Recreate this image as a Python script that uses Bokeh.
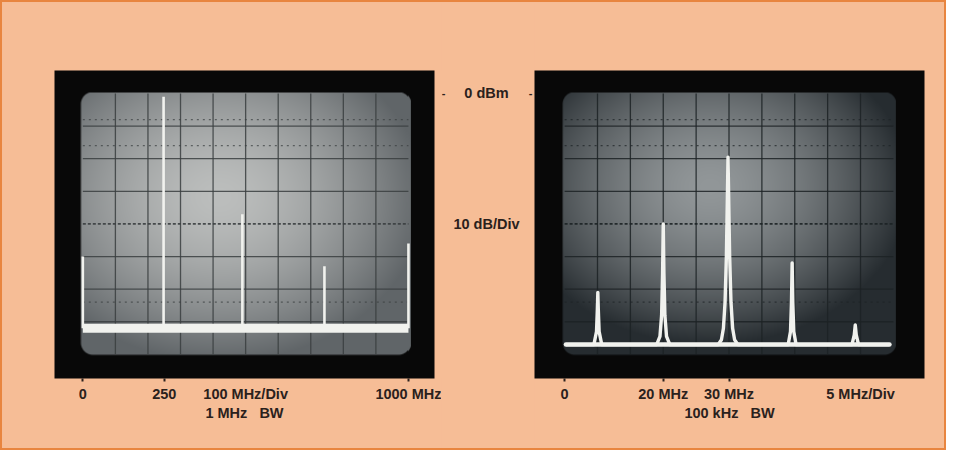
import numpy as np
from bokeh.plotting import figure
from bokeh.layouts import row
from bokeh.models import FixedTicker, Range1d
from bokeh.core.properties import value
from bokeh.embed import file_html
from bokeh.resources import INLINE

# ---------------- data ----------------
# Left display: 0-1000 MHz, 100 MHz/div, 10 dB/div, 1 MHz BW
left_peak_freq_mhz = [0, 248, 490, 742, 1000]
left_peak_level_db = [-50, -1, -37, -53, -46]
left_floor_db = -72
left_floor_span_mhz = [0, 1000]
left_tick_values = [0, 250, 500, 1000]
left_tick_labels = ["0", "250", "100 MHz/Div", "1000 MHz"]
left_tick_marks = [0, 250, 1000]

# Right display: 5 MHz/div, 10 dB/div, 100 kHz BW
right_trace_freq_mhz = [5.2, 9.45, 9.85, 9.98, 10.05, 10.12, 10.25, 10.65,
                        19.0, 19.5, 19.75, 19.9, 20.0, 20.1, 20.25, 20.5, 21.0,
                        28.35, 28.85, 29.15, 29.4, 29.6, 29.75, 29.85, 29.95, 30.1, 30.3, 30.55, 30.85, 31.35,
                        39.0, 39.35, 39.5, 39.6, 39.7, 39.85, 40.2,
                        48.7, 49.05, 49.2, 49.35, 49.7, 54.4]
right_trace_level_db = [-77, -77, -73, -66, -61, -66, -73, -77,
                        -77, -74.5, -68, -55, -40, -55, -68, -74.5, -77,
                        -77, -75.5, -72, -64, -50, -32, -19.5, -32, -50, -64, -72, -75.5, -77,
                        -77, -73, -64, -52, -64, -73, -77,
                        -77, -74, -71, -74, -77, -77]
right_floor_db = -77
right_floor_span_mhz = [5.2, 54.4]
right_tick_values = [5, 20, 30, 50]
right_tick_labels = ["0", "20 MHz", "30 MHz", "5 MHz/Div"]
right_tick_marks = [5, 20, 30]

level_labels = ["0 dBm", "10 dB/Div"]
level_label_db = [0, -40]

# ---------------- style ----------------
PEACH = "#F6BD96"
BEZEL = "#080808"
INK = "#2a211c"
TRACE = "#F1F2EE"
FONT = "Liberation Sans"
FS = "14.5px"
Y_RANGE = (-87.4, 7.05)
H = 446
MB_TOP, MB_BOTTOM = 68, 70


def crt_face(w, h, center_rgb, edge_rgb, cx, cy, spread, radius):
    yy, xx = np.mgrid[0:h, 0:w].astype(float)
    ytop = h - 1 - yy
    dx = (xx - cx * w) / (w * 0.5)
    dy = (ytop - cy * h) / (h * 0.5)
    d = np.sqrt(dx ** 2 + dy ** 2) / spread
    t = np.clip(d, 0, 1) ** 1.6
    c = np.array(center_rgb, float)[None, None, :]
    e = np.array(edge_rgb, float)[None, None, :]
    rgb = c * (1 - t[..., None]) + e * t[..., None]
    qx = np.maximum(np.maximum(radius - xx, xx - (w - 1 - radius)), 0)
    qy = np.maximum(np.maximum(radius - yy, yy - (h - 1 - radius)), 0)
    dist = np.sqrt(qx ** 2 + qy ** 2)
    alpha = np.clip(radius + 0.5 - dist, 0, 1)
    img = np.empty((h, w), dtype=np.uint32)
    v = img.view(dtype=np.uint8).reshape((h, w, 4))
    v[..., :3] = np.clip(rgb, 0, 255).astype(np.uint8)
    v[..., 3] = (alpha * 255).astype(np.uint8)
    return img


def make_panel(width, x_range, mb_left, mb_right, span, tick_values, tick_labels, tick_marks,
               axis_label, face, grid_color):
    p = figure(width=width, height=H, x_range=x_range, y_range=Range1d(*Y_RANGE),
               output_backend="svg", toolbar_location=None, y_axis_location=None,
               min_border_left=mb_left, min_border_right=mb_right,
               min_border_top=MB_TOP, min_border_bottom=MB_BOTTOM)
    p.background_fill_color = BEZEL
    p.border_fill_color = PEACH
    p.outline_line_color = None
    p.xgrid.visible = False
    p.ygrid.visible = False

    x0, x1 = span
    dx = (x1 - x0) / 10.0
    # CRT face
    p.image_rgba(image=[face], x=x0 - dx * 0.075, y=-80.3, dw=(x1 - x0) + dx * 0.15, dh=80.6)
    # graticule
    vx = [x0 + dx * i for i in range(1, 10)]
    p.segment(x0=vx, y0=[-80] * 9, x1=vx, y1=[0] * 9, line_color=grid_color, line_width=1.3, line_alpha=0.85)
    hy = [-10, -20, -30, -50, -60, -70]
    p.segment(x0=[x0] * len(hy), y0=hy, x1=[x1] * len(hy), y1=hy, line_color=grid_color,
              line_width=1.3, line_alpha=0.85)
    p.segment(x0=[x0], y0=[-40], x1=[x1], y1=[-40], line_color=grid_color, line_width=1.8,
              line_alpha=0.9, line_dash="3 2")
    dots = [-8, -16, -64]
    p.segment(x0=[x0] * 3, y0=dots, x1=[x1] * 3, y1=dots, line_color=grid_color, line_width=1.2,
              line_alpha=0.7, line_dash="2 4")

    ax = p.xaxis[0]
    ax.ticker = FixedTicker(ticks=tick_values, minor_ticks=tick_marks)
    ax.major_label_overrides = {v: s for v, s in zip(tick_values, tick_labels)}
    ax.axis_line_color = None
    ax.major_tick_line_color = None
    ax.major_tick_out = 3
    ax.major_tick_in = 0
    ax.minor_tick_line_color = INK
    ax.minor_tick_line_width = 2
    ax.minor_tick_out = 3
    ax.minor_tick_in = 0
    ax.major_label_standoff = 4
    ax.major_label_text_font = FONT
    ax.major_label_text_font_style = "bold"
    ax.major_label_text_font_size = FS
    ax.major_label_text_color = INK
    ax.axis_label = axis_label
    ax.axis_label_text_font = FONT
    ax.axis_label_text_font_style = "bold"
    ax.axis_label_text_font_size = FS
    ax.axis_label_text_color = INK
    ax.axis_label_standoff = 0
    return p


# Left panel (frame = bezel, 380 px wide)
left_face = crt_face(330, 263, (188, 190, 189), (96, 101, 104), 0.42, 0.40, 1.25, 12)
pL = make_panel(439, Range1d(-87, 1080), 52, 7, left_floor_span_mhz,
                left_tick_values, left_tick_labels, left_tick_marks,
                "1 MHz\u00a0\u00a0\u00a0BW", left_face, "#3a3e40")
pL.line(x=left_floor_span_mhz, y=[left_floor_db] * 2, line_color=TRACE, line_width=9, line_cap="butt")
pL.segment(x0=left_peak_freq_mhz, y0=[left_floor_db] * len(left_peak_freq_mhz),
           x1=left_peak_freq_mhz, y1=left_peak_level_db, line_color=TRACE, line_width=2.6)

# Middle strip: level annotations (shares the vertical dB scale)
pM = figure(width=93, height=H, x_range=Range1d(441, 534), y_range=Range1d(*Y_RANGE),
            output_backend="svg", toolbar_location=None, x_axis_location=None, y_axis_location=None,
            min_border_left=0, min_border_right=0, min_border_top=MB_TOP, min_border_bottom=MB_BOTTOM)
pM.background_fill_color = PEACH
pM.border_fill_color = PEACH
pM.outline_line_color = None
pM.xgrid.visible = False
pM.ygrid.visible = False
pM.text(x=[486] * len(level_labels), y=level_label_db, text=level_labels, text_align="center",
        text_baseline="middle", text_font=value(FONT), text_font_style="bold",
        text_font_size=FS, text_color=INK)
pM.text(x=[443, 530], y=[0, 0], text=["-", "-"], text_align="center", text_baseline="middle",
        text_font=value(FONT), text_font_style="bold", text_font_size="11px", text_color=INK)

# Right panel (frame = bezel, 390 px wide)
right_face = crt_face(330, 263, (146, 151, 153), (38, 44, 48), 0.44, 0.36, 1.2, 12)
pR = make_panel(410, Range1d(0.42, 59.73), 0, 20, [5, 55],
                right_tick_values, right_tick_labels, right_tick_marks,
                "100 kHz\u00a0\u00a0\u00a0BW", right_face, "#1c2225")
pR.line(x=right_floor_span_mhz, y=[right_floor_db] * 2, line_color=TRACE, line_width=4.5, line_cap="round")
pR.line(x=right_trace_freq_mhz, y=right_trace_level_db, line_color=TRACE, line_width=3.4, line_join="round")

layout = row(pL, pM, pR, styles={"border": "2px solid #E8853F", "background-color": PEACH})

open("out.html", "w").write(file_html(layout, INLINE))
